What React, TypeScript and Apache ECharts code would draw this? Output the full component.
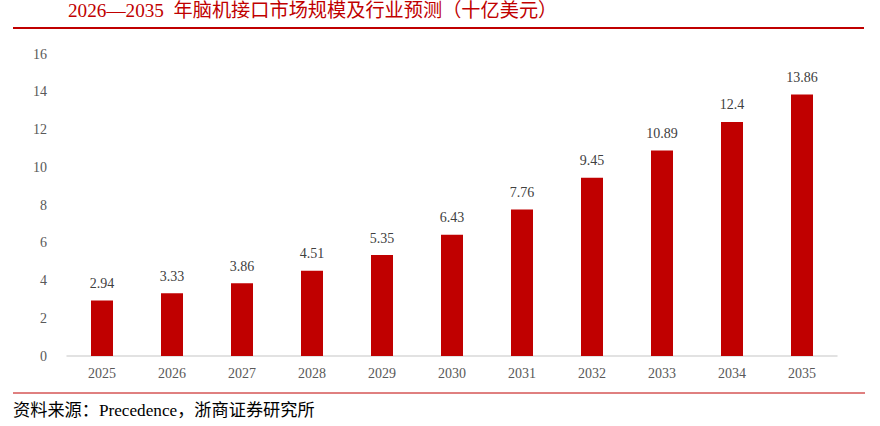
import React, { useEffect, useRef } from 'react';
import * as echarts from 'echarts';

const years = ['2025', '2026', '2027', '2028', '2029', '2030', '2031', '2032', '2033', '2034', '2035'];
const marketSize = [2.94, 3.33, 3.86, 4.51, 5.35, 6.43, 7.76, 9.45, 10.89, 12.4, 13.86];

const titleText = '2026—2035  年脑机接口市场规模及行业预测（十亿美元）';
const sourceText = '资料来源：Precedence，浙商证券研究所';

const RED = '#c00000';
const FONT = '"Liberation Serif", "Noto Sans CJK SC", serif';

const App: React.FC = () => {
  const chartRef = useRef<HTMLDivElement>(null);

  useEffect(() => {
    if (!chartRef.current) return;
    const chart = echarts.init(chartRef.current, null, { renderer: 'svg' });

    const options: echarts.EChartsOption = {
      animation: false,
      backgroundColor: '#fff',
      grid: { left: 67, right: 43, top: 54, bottom: 70 },
      xAxis: {
        type: 'category',
        data: years,
        axisLine: { lineStyle: { color: '#d9d9d9', width: 1.5 } },
        axisTick: { show: false },
        axisLabel: { color: '#595959', fontSize: 14, fontFamily: FONT, margin: 10 }
      },
      yAxis: {
        type: 'value',
        min: 0,
        max: 16,
        interval: 2,
        splitLine: { show: false },
        axisLine: { show: false },
        axisTick: { show: false },
        axisLabel: { color: '#595959', fontSize: 14, fontFamily: FONT, margin: 20 }
      },
      series: [{
        type: 'bar',
        data: marketSize,
        barWidth: 22,
        itemStyle: { color: RED },
        label: {
          show: true,
          position: 'top',
          distance: 10,
          color: '#404040',
          fontSize: 14,
          fontFamily: FONT
        }
      }],
      graphic: [
        {
          type: 'text',
          left: 68,
          top: 1,
          style: { text: titleText, fill: RED, fontSize: 19.2, fontFamily: FONT }
        },
        {
          type: 'line',
          shape: { x1: 13, y1: 28, x2: 864, y2: 28 },
          style: { stroke: RED, lineWidth: 2 }
        },
        {
          type: 'line',
          shape: { x1: 13, y1: 393, x2: 865, y2: 393 },
          style: { stroke: RED, lineWidth: 1 }
        },
        {
          type: 'text',
          left: 13,
          top: 402,
          style: { text: sourceText, fill: '#000', fontSize: 17.2, fontFamily: FONT }
        }
      ]
    };

    chart.setOption(options);

    return () => {
      chart.dispose();
    };
  }, []);

  return (
    <div
      ref={chartRef}
      style={{ position: 'fixed', left: 0, top: 0, width: 880, height: 426 }}
    />
  );
};

export default App;
